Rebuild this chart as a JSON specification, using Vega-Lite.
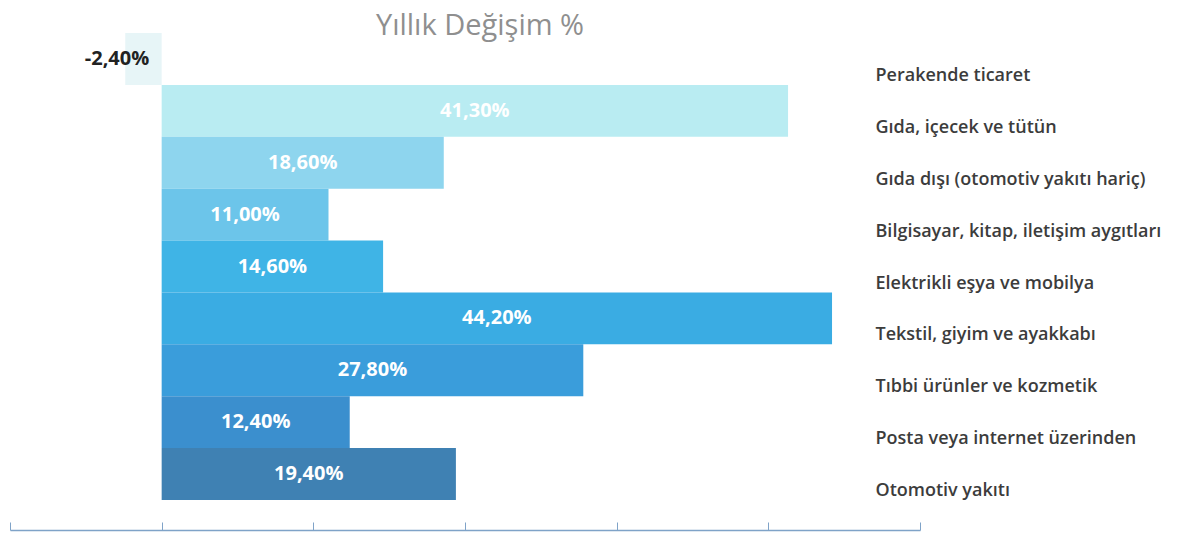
{
  "$schema": "https://vega.github.io/schema/vega-lite/v6.json",
  "width": 910,
  "height": 467,
  "autosize": {"type": "none"},
  "padding": {"left": 10, "top": 33, "right": 264, "bottom": 57},
  "background": "white",
  "config": {
    "locale": {"number": {"decimal": ",", "thousands": ".", "grouping": [3], "currency": ["", " TL"], "minus": "-"}},
    "view": {"stroke": null},
    "font": "Open Sans"
  },
  "title": {"text": "Yıllık Değişim %", "fontSize": 29, "font": "Open Sans", "fontWeight": "normal", "color": "#8f8f8f", "anchor": "middle", "offset": -8, "dx": 15},
  "data": {"values": [
    {"category": "Perakende ticaret", "value": -0.024},
    {"category": "Gıda, içecek ve tütün", "value": 0.413},
    {"category": "Gıda dışı (otomotiv yakıtı hariç)", "value": 0.186},
    {"category": "Bilgisayar, kitap, iletişim aygıtları", "value": 0.11},
    {"category": "Elektrikli eşya ve mobilya", "value": 0.146},
    {"category": "Tekstil, giyim ve ayakkabı", "value": 0.442},
    {"category": "Tıbbi ürünler ve kozmetik", "value": 0.278},
    {"category": "Posta veya internet üzerinden", "value": 0.124},
    {"category": "Otomotiv yakıtı", "value": 0.194}
  ]},
  "encoding": {
    "y": {"field": "category", "type": "nominal", "sort": null,
      "scale": {"paddingInner": 0, "paddingOuter": 0},
      "axis": {"orient": "right", "title": null, "domain": false, "ticks": false, "labelPadding": -45, "labelOffset": 17, "labelFontSize": 18, "labelFont": "Open Sans", "labelFontWeight": 600, "labelColor": "#3c3c3c", "labelLimit": 400}}
  },
  "layer": [
    {
      "layer": [
        {
          "mark": {"type": "bar"},
          "encoding": {
            "x": {"field": "value", "type": "quantitative",
              "scale": {"domain": [-0.1, 0.5], "nice": false, "zero": true},
              "axis": {"title": null, "labels": false, "grid": false, "values": [-0.1, 0, 0.1, 0.2, 0.3, 0.4, 0.5], "tickSize": -8, "tickColor": "#7fa3c8", "domainColor": "#7fa3c8", "domainWidth": 1.5, "offset": 30}},
            "color": {"field": "category", "type": "nominal", "sort": null, "legend": null,
              "scale": {"range": ["#e7f5f7", "#b9ecf2", "#8ed5ee", "#6cc5ea", "#3fb4e6", "#3aace3", "#3a9ddb", "#3b8fce", "#3f81b3"]}}
          }
        },
        {
          "transform": [{"filter": "datum.value < 0"}],
          "mark": {"type": "text", "color": "#222222", "fontSize": 20, "fontWeight": "bold", "font": "Open Sans", "align": "right", "baseline": "middle", "dx": 24, "dy": 0},
          "encoding": {
            "x": {"field": "value", "type": "quantitative"},
            "text": {"field": "value", "type": "quantitative", "format": ".2%"}
          }
        }
      ]
    },
    {
      "transform": [{"filter": "datum.value > 0"}],
      "mark": {"type": "text", "color": "white", "fontSize": 20, "fontWeight": "bold", "font": "Open Sans", "align": "center", "baseline": "middle"},
      "encoding": {
        "x": {"field": "value", "type": "quantitative", "scale": {"domain": [-0.2, 1.0], "nice": false, "zero": false}, "axis": null},
        "text": {"field": "value", "type": "quantitative", "format": ".2%"}
      }
    }
  ],
  "resolve": {"scale": {"x": "independent"}}
}
